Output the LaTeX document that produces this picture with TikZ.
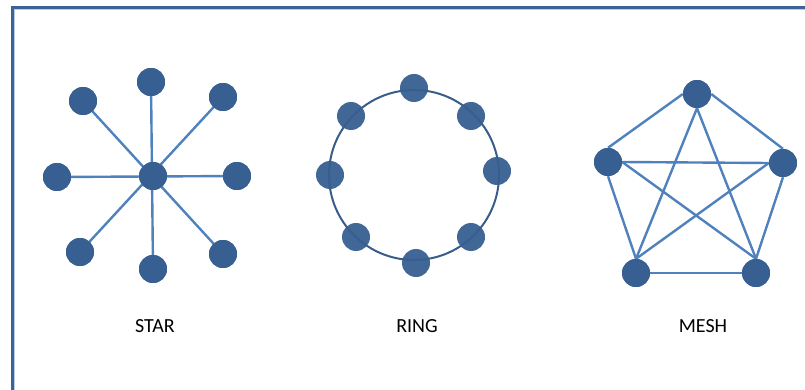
\documentclass[tikz,border=0pt]{standalone}
\usepackage{fontspec}
\setmainfont{Carlito}
\usepackage{tikz}
\usetikzlibrary{positioning}
\definecolor{nodeFill}{HTML}{375F91}
\definecolor{linkLine}{HTML}{4F81BD}
\definecolor{ringLine}{HTML}{385D8A}
\definecolor{frameLine}{HTML}{3E6396}
\definecolor{frameLight}{HTML}{B9CDE5}

\tikzset{
  host/.style={circle, fill=nodeFill, minimum size=28pt, inner sep=0pt},
  link/.style={linkLine, line width=2.4pt},
  title/.style={font=\fontsize{20}{24}\selectfont, text=black}
}

\begin{document}
\begin{tikzpicture}[x=1pt, y=-1pt]
  \useasboundingbox (0,0) rectangle (805,390);
  % frame
  \draw[frameLight, line width=1pt] (14.5,390) -- (14.5,9.5) -- (805,9.5);
  \draw[frameLine, line width=2.4pt] (12.5,390) -- (12.5,7.5) -- (805,7.5);

  % star
  \node[host] (sc) at (153,176) {};
  \foreach \n/\x/\y in {s1/151/82, s2/223/97, s3/237/176, s4/223/254,
                        s5/153/269, s6/80/252, s7/57/177, s8/83/101}
    \node[host] (\n) at (\x,\y) {};
  \draw[link] (s1.center) -- (s5.center);
  \draw[link] (s2.center) -- (s6.center);
  \draw[link] (s3.center) -- (s7.center);
  \draw[link] (s4.center) -- (s8.center);
  \foreach \n in {sc,s1,s2,s3,s4,s5,s6,s7,s8}
    \node[host] at (\n) {};
  \node[title] (starlbl) at (155,326) {STAR};

  % ring
  \draw[ringLine, line width=2pt] (414,175) circle[radius=85];
  \foreach \n/\x/\y in {r1/414/88, r2/471/116, r3/497/171, r4/471/237,
                        r5/416/263, r6/356/237, r7/330/175, r8/351/116}
    \node[host, opacity=0.95] (\n) at (\x,\y) {};
  \node[title] (ringlbl) at (417,326) {RING};

  % mesh
  \node[host] (m1) at (697,94) {};
  \node[host] (m2) at (783,163) {};
  \node[host] (m3) at (756,273) {};
  \node[host] (m4) at (636,273) {};
  \node[host] (m5) at (608,162) {};
  \draw[link] (m1.west) -- (m5.north);
  \draw[link] (m1.east) -- (m2.north);
  \draw[link] (m1.south) -- (m4.north);
  \draw[link] (m1.south) -- (m3.north);
  \draw[link] (m5.east) -- (m2.west);
  \draw[link] (m5.east) -- (m3.north);
  \draw[link] (m2.west) -- (m4.north);
  \draw[link] (m5.south) -- (m4.north);
  \draw[link] (m2.south) -- (m3.north);
  \draw[link] (m4.east) -- (m3.west);
  \foreach \n in {m1,m2,m3,m4,m5}
    \node[host] at (\n) {};
  \node[title] (meshlbl) at (703,326) {MESH};
\end{tikzpicture}
\end{document}
